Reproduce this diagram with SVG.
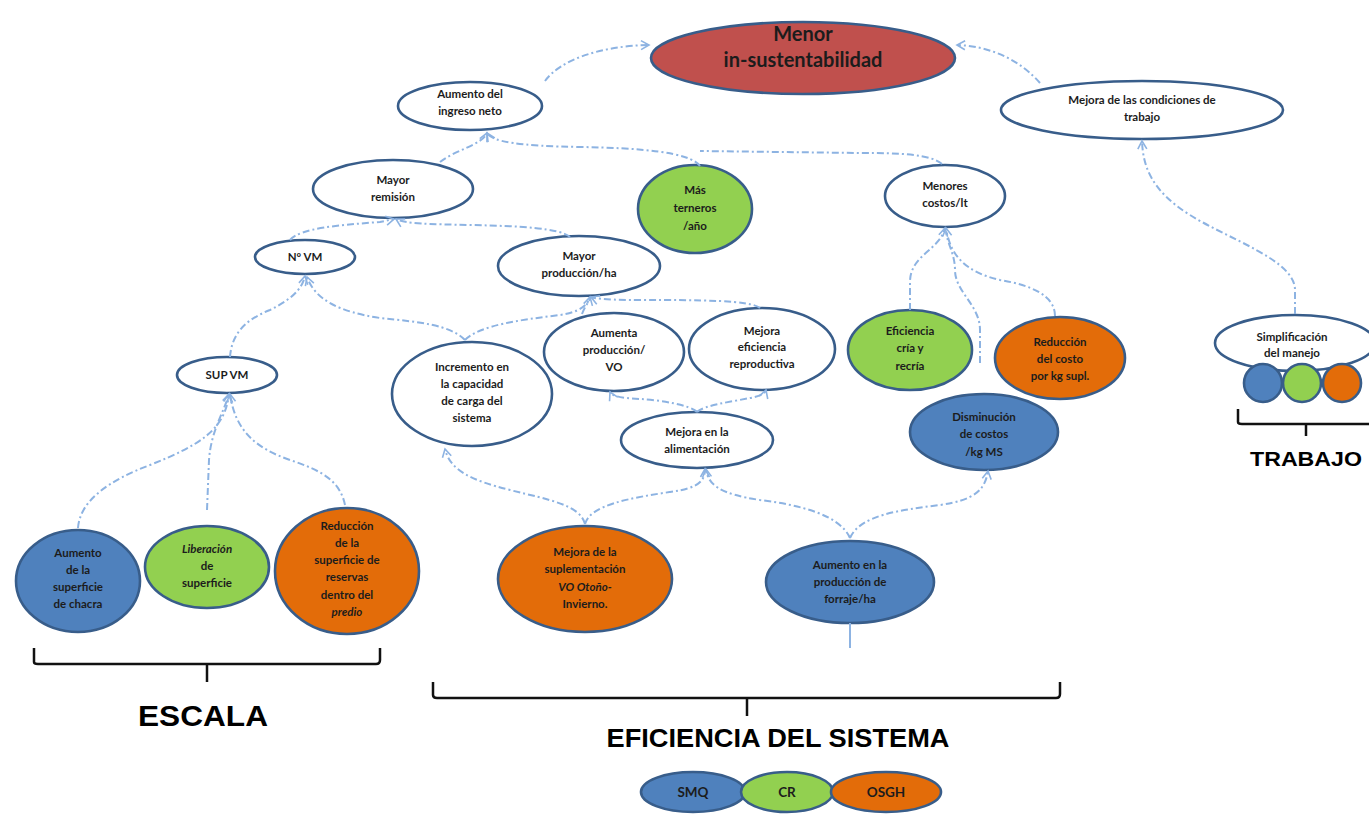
<svg xmlns="http://www.w3.org/2000/svg" width="1369" height="815" viewBox="0 0 1369 815">
<defs>
<marker id="arr" markerWidth="12" markerHeight="12" refX="10" refY="6" orient="auto" markerUnits="userSpaceOnUse">
<path d="M2,1.5 L10,6 L2,10.5" fill="none" stroke="#8DB3E2" stroke-width="1.6"/>
</marker>
<style>
.n{stroke:#385D8A;stroke-width:2.6}
.w{fill:#ffffff}.r{fill:#C0504D}.g{fill:#92D050}.o{fill:#E36C09}.b{fill:#4F81BD}
.t{font-family:Lato,"Open Sans",sans-serif;font-size:11.5px;font-weight:bold;fill:#1c1c1c;text-anchor:middle}
.big{font-size:20px}
.lg{font-size:13.5px}
.c{fill:none;stroke:#8DB3E2;stroke-width:2;stroke-dasharray:7 3 2 3}
.br{fill:none;stroke:#111;stroke-width:2.5}
.h{font-family:"Liberation Sans",Arial,sans-serif;font-weight:bold;fill:#000;text-anchor:middle}
</style>
</defs>
<rect width="1369" height="815" fill="#ffffff"/>

<g id="menor"><ellipse class="n r" cx="803" cy="58" rx="152" ry="36"/>
<text class="t big" x="803" y="41">Menor</text><text class="t big" x="803" y="67">in-sustentabilidad</text></g>
<g id="ingreso"><ellipse class="n w" cx="470" cy="106" rx="72" ry="24"/>
<text class="t" x="470" y="98">Aumento del</text><text class="t" x="470" y="115">ingreso neto</text></g>
<g id="condiciones"><ellipse class="n w" cx="1142" cy="110" rx="141" ry="29"/>
<text class="t" x="1142" y="104">Mejora de las condiciones de</text><text class="t" x="1142" y="121">trabajo</text></g>
<g id="remision"><ellipse class="n w" cx="393" cy="189" rx="80" ry="29"/>
<text class="t" x="393" y="184">Mayor</text><text class="t" x="393" y="201">remisión</text></g>
<g id="terneros"><ellipse class="n g" cx="695" cy="209" rx="57" ry="44"/>
<text class="t" x="695" y="194">Más</text><text class="t" x="695" y="212">terneros</text><text class="t" x="695" y="230">/año</text></g>
<g id="costos"><ellipse class="n w" cx="945" cy="196" rx="60" ry="31"/>
<text class="t" x="945" y="190">Menores</text><text class="t" x="945" y="207">costos/lt</text></g>
<g id="nvm"><ellipse class="n w" cx="305" cy="257" rx="50" ry="17"/>
<text class="t" x="305" y="261">Nº VM</text></g>
<g id="produccion"><ellipse class="n w" cx="579" cy="266" rx="81" ry="30"/>
<text class="t" x="579" y="260">Mayor</text><text class="t" x="579" y="277">producción/ha</text></g>
<g id="supvm"><ellipse class="n w" cx="227" cy="375" rx="50" ry="18"/>
<text class="t" x="227" y="379">SUP VM</text></g>
<g id="incremento"><ellipse class="n w" cx="472" cy="394" rx="80" ry="52"/>
<text class="t" x="472" y="371">Incremento en</text><text class="t" x="472" y="388">la capacidad</text><text class="t" x="472" y="405">de carga del</text><text class="t" x="472" y="422">sistema</text></g>
<g id="aumentavo"><ellipse class="n w" cx="614" cy="352" rx="70" ry="39"/>
<text class="t" x="614" y="337">Aumenta</text><text class="t" x="614" y="354">producción/</text><text class="t" x="614" y="371">VO</text></g>
<g id="eficiencia"><ellipse class="n w" cx="762" cy="349" rx="73" ry="41"/>
<text class="t" x="762" y="335">Mejora</text><text class="t" x="762" y="351">eficiencia</text><text class="t" x="762" y="368">reproductiva</text></g>
<g id="alimentacion"><ellipse class="n w" cx="697" cy="440" rx="76" ry="28"/>
<text class="t" x="697" y="436">Mejora en la</text><text class="t" x="697" y="453">alimentación</text></g>
<g id="cria"><ellipse class="n g" cx="910" cy="350" rx="62" ry="40"/>
<text class="t" x="910" y="335">Eficiencia</text><text class="t" x="910" y="352">cría y</text><text class="t" x="910" y="370">recría</text></g>
<g id="costosupl"><ellipse class="n o" cx="1060" cy="358" rx="65" ry="41"/>
<text class="t" x="1060" y="346">Reducción</text><text class="t" x="1060" y="363">del costo</text><text class="t" x="1060" y="380">por kg supl.</text></g>
<g id="kgms"><ellipse class="n b" cx="984" cy="432" rx="74" ry="38"/>
<text class="t" x="984" y="421">Disminución</text><text class="t" x="984" y="438">de costos</text><text class="t" x="984" y="456">/kg MS</text></g>
<g id="simplificacion"><ellipse class="n w" cx="1295" cy="343" rx="80" ry="28"/>
<text class="t" x="1292" y="341">Simplificación</text><text class="t" x="1292" y="357">del manejo</text>
<circle class="n b" cx="1263" cy="383" r="19"/><circle class="n g" cx="1302" cy="383" r="19"/><circle class="n o" cx="1342" cy="383" r="19"/></g>
<g id="chacra"><ellipse class="n b" cx="78" cy="581" rx="62" ry="51"/>
<text class="t" x="78" y="557">Aumento</text><text class="t" x="78" y="574">de la</text><text class="t" x="78" y="591">superficie</text><text class="t" x="78" y="608">de chacra</text></g>
<g id="liberacion"><ellipse class="n g" cx="207" cy="567" rx="62" ry="41"/>
<text class="t" x="207" y="553" font-style="italic">Liberación</text><text class="t" x="207" y="570">de</text><text class="t" x="207" y="587">superficie</text></g>
<g id="reservas"><ellipse class="n o" cx="347" cy="571" rx="72" ry="63"/>
<text class="t" x="347" y="530">Reducción</text><text class="t" x="347" y="547">de la</text><text class="t" x="347" y="564">superficie de</text><text class="t" x="347" y="581">reservas</text><text class="t" x="347" y="599">dentro del</text><text class="t" x="347" y="616" font-style="italic">predio</text></g>
<g id="suplementacion"><ellipse class="n o" cx="585" cy="579" rx="87" ry="53"/>
<text class="t" x="585" y="556">Mejora de la</text><text class="t" x="585" y="573">suplementación</text><text class="t" x="585" y="591" font-style="italic">VO Otoño-</text><text class="t" x="585" y="608">Invierno.</text></g>
<g id="forraje"><ellipse class="n b" cx="850" cy="582" rx="84" ry="41"/>
<text class="t" x="850" y="569">Aumento en la</text><text class="t" x="850" y="586">producción de</text><text class="t" x="850" y="603">forraje/ha</text></g>

<g id="connectors">
<path class="c" marker-end="url(#arr)" d="M545,81 C560,60 600,46 649,45"/>
<path class="c" marker-end="url(#arr)" d="M1040,83 C1020,60 990,46 957,45"/>
<path class="c" marker-end="url(#arr)" d="M440,162 C455,150 482,145 487,133"/>
<path class="c" marker-end="url(#arr)" d="M700,166 C690,152 640,148 580,147 C520,146 492,142 487,133"/>
<path class="c" d="M942,164 C930,154 900,153 860,153 L700,151"/>
<path class="c" marker-end="url(#arr)" d="M290,240 C300,228 340,225 380,222 L394,219"/>
<path class="c" marker-end="url(#arr)" d="M570,237 C560,228 520,226 470,225 C430,224 405,224 396,219"/>
<path class="c" marker-end="url(#arr)" d="M230,357 C232,330 250,318 270,310 C290,300 302,290 305,276"/>
<path class="c" marker-end="url(#arr)" d="M465,340 C450,325 420,322 380,318 C340,312 315,300 307,277"/>
<path class="c" marker-end="url(#arr)" d="M465,340 C480,325 520,320 560,315 C580,312 588,305 590,297"/>
<path class="c" d="M582,314 C585,306 589,302 590,298"/>
<path class="c" marker-end="url(#arr)" d="M760,308 C750,300 700,300 640,300 C612,300 596,299 591,297"/>
<path class="c" marker-end="url(#arr)" d="M78,528 C80,500 110,480 150,465 C200,445 225,430 229,394"/>
<path class="c" marker-end="url(#arr)" d="M207,510 L209,460 C211,430 225,410 229,394"/>
<path class="c" marker-end="url(#arr)" d="M345,505 C340,480 320,470 290,460 C255,448 235,430 230,394"/>
<path class="c" marker-end="url(#arr)" d="M585,524 C580,505 550,500 510,490 C470,480 450,470 445,449"/>
<path class="c" marker-end="url(#arr)" d="M585,524 C590,505 630,498 670,492 C700,488 705,480 705,469"/>
<path class="c" marker-end="url(#arr)" d="M850,538 C840,515 800,505 760,500 C720,494 708,485 706,469"/>
<path class="c" marker-end="url(#arr)" d="M850,538 C860,515 900,510 940,505 C975,500 985,490 988,471"/>
<path class="c" marker-end="url(#arr)" d="M697,412 C690,405 660,400 640,399 C620,398 612,396 610,392"/>
<path class="c" marker-end="url(#arr)" d="M697,412 C705,405 730,402 750,398 C762,396 765,393 766,390"/>
<path class="c" marker-end="url(#arr)" d="M910,310 L910,282 C910,255 940,250 945,228"/>
<path class="c" d="M980,363 L980,330 C980,305 955,292 955,270 C955,255 948,245 946,232"/>
<path class="c" marker-end="url(#arr)" d="M1055,316 C1055,295 1030,285 1000,280 C965,272 950,255 946,228"/>
<path class="c" marker-end="url(#arr)" d="M1295,314 L1295,290 C1295,260 1230,240 1190,215 C1150,190 1143,165 1142,141"/>
<path d="M850,623 L850,648" stroke="#8DB3E2" stroke-width="2" fill="none"/>
</g>

<g id="escala">
<path class="br" d="M34,648 L34,662 Q34,664 38,664 L376,664 Q380,664 380,660 L380,648"/>
<path class="br" d="M207,664 L207,682"/>
<text class="h" x="203" y="726" font-size="29" textLength="130" lengthAdjust="spacingAndGlyphs">ESCALA</text>
</g>
<g id="eficienciasistema">
<path class="br" d="M433,682 L433,695 Q433,698 437,698 L1056,698 Q1060,698 1060,694 L1060,682"/>
<path class="br" d="M747,698 L747,716"/>
<text class="h" x="778" y="747" font-size="26" textLength="343" lengthAdjust="spacingAndGlyphs">EFICIENCIA DEL SISTEMA</text>
</g>
<g id="trabajo">
<path class="br" d="M1238,409 L1238,422 Q1238,424 1242,424 L1369,424"/>
<path class="br" d="M1306,424 L1306,436"/>
<text class="h" x="1306" y="466" font-size="21" textLength="112" lengthAdjust="spacingAndGlyphs">TRABAJO</text>
</g>
<g id="legend">
<ellipse class="n b" cx="693" cy="792" rx="52" ry="20"/>
<ellipse class="n g" cx="787" cy="792" rx="46" ry="20"/>
<ellipse class="n o" cx="886" cy="792" rx="55" ry="20"/>
<text class="t lg" x="693" y="797">SMQ</text>
<text class="t lg" x="787" y="797">CR</text>
<text class="t lg" x="886" y="797">OSGH</text>
</g>
</svg>
